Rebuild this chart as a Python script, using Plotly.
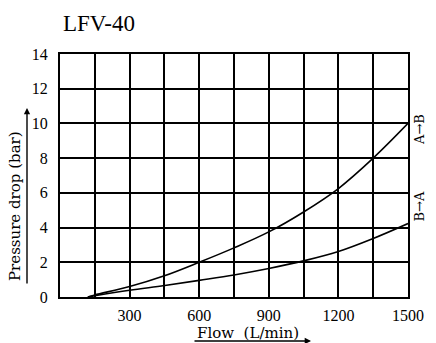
import plotly.graph_objects as go

flow = [120, 150, 300, 450, 600, 750, 900, 1050, 1200, 1350, 1500]
dp_ab = [0.0, 0.12, 0.6, 1.22, 2.0, 2.83, 3.75, 4.9, 6.25, 8.0, 10.0]
dp_ba = [0.0, 0.07, 0.39, 0.66, 0.96, 1.27, 1.64, 2.08, 2.62, 3.37, 4.23]

x_tickvals = [0, 150, 300, 450, 600, 750, 900, 1050, 1200, 1350, 1500]
x_ticktext = ["", "", "300", "", "600", "", "900", "", "1200", "", "1500"]
y_tickvals = [0, 2, 4, 6, 8, 10, 12, 14]
y_ticktext = ["0", "2", "4", "6", "8", "10", "12", "14"]

title_text = "LFV-40"
x_title = "Flow  (L/min)"
y_title = "Pressure drop (bar)"
series_labels = ["A→B", "B→A"]

W, H = 436, 343
L, R, T, B = 60, 28, 54, 46
pw, ph = W - L - R, H - T - B

def px(xp):
    return (xp - L) / pw

def py(yp):
    return (H - B - yp) / ph

serif = "DejaVu Serif"
lserif = "Liberation Serif"

fig = go.Figure()
for ys in (dp_ab, dp_ba):
    fig.add_trace(go.Scatter(x=flow, y=ys, mode="lines",
                             line=dict(color="black", width=1.6, shape="spline", smoothing=1.0),
                             showlegend=False, hoverinfo="skip"))

fig.update_layout(
    width=W, height=H,
    margin=dict(l=L, r=R, t=T, b=B, pad=0),
    paper_bgcolor="white", plot_bgcolor="white",
    font=dict(family=lserif, color="black", size=16),
    xaxis=dict(range=[0, 1500], tickvals=x_tickvals, ticktext=x_ticktext,
               showgrid=True, gridcolor="black", gridwidth=1.5,
               showline=True, linecolor="black", linewidth=2, mirror=True,
               zeroline=False, ticks="", ticklabelstandoff=3,
               tickfont=dict(family=lserif, size=16)),
    yaxis=dict(range=[0, 14], tickvals=y_tickvals, ticktext=y_ticktext,
               showgrid=True, gridcolor="black", gridwidth=1.5,
               showline=True, linecolor="black", linewidth=2, mirror=True,
               zeroline=False, ticks="", ticklabelstandoff=7,
               tickfont=dict(family=lserif, size=16)),
)

ann = []
# title
ann.append(dict(x=px(61), y=py(23), xref="paper", yref="paper", text=title_text,
                showarrow=False, xanchor="left", yanchor="middle",
                font=dict(family=lserif, size=23)))
# y title
ann.append(dict(x=px(15), y=py(206), xref="paper", yref="paper", text=y_title,
                showarrow=False, xanchor="center", yanchor="middle", textangle=-90,
                font=dict(family=serif, size=15)))
# x title
ann.append(dict(x=px(248), y=py(333), xref="paper", yref="paper", text=x_title,
                showarrow=False, xanchor="center", yanchor="middle",
                font=dict(family=serif, size=15)))
# y arrow
ann.append(dict(x=px(27), y=py(108), xref="paper", yref="paper", ax=0, ay=177,
                axref="pixel", ayref="pixel", text="", showarrow=True,
                arrowhead=2, arrowsize=0.9, arrowwidth=1.4, arrowcolor="black"))
# x arrow
ann.append(dict(x=px(311), y=py(341), xref="paper", yref="paper", ax=-118, ay=0,
                axref="pixel", ayref="pixel", text="", showarrow=True,
                arrowhead=2, arrowsize=0.9, arrowwidth=1.4, arrowcolor="black"))
# series labels
ann.append(dict(x=px(429), y=py(112), xref="paper", yref="paper", text=series_labels[0],
                showarrow=False, textangle=-90, font=dict(family=serif, size=13)))
ann.append(dict(x=px(429), y=py(224), xref="paper", yref="paper", text=series_labels[1],
                showarrow=False, textangle=-90, font=dict(family=serif, size=13)))
fig.update_layout(annotations=ann)

fig.write_html("out.html")
